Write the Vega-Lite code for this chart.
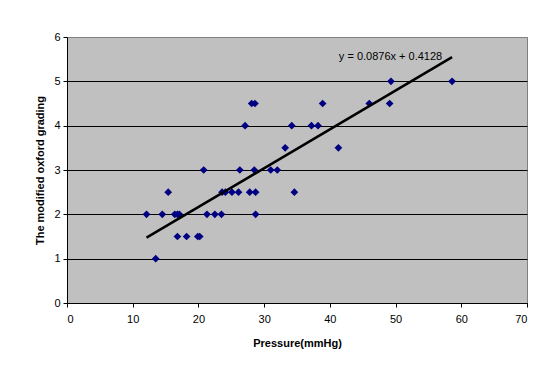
{
  "$schema": "https://vega.github.io/schema/vega-lite/v6.json",
  "width": 460,
  "height": 266,
  "autosize": "none",
  "padding": {"left": 67, "top": 37, "right": 15, "bottom": 63},
  "background": "white",
  "config": {
    "font": "Liberation Sans",
    "view": {"fill": "#C0C0C0", "stroke": "#808080", "strokeWidth": 1}
  },
  "datasets": {
    "points": [
      {"pressure": 13.5, "grade": 1},
      {"pressure": 16.8, "grade": 1.5},
      {"pressure": 18.2, "grade": 1.5},
      {"pressure": 19.9, "grade": 1.5},
      {"pressure": 20.2, "grade": 1.5},
      {"pressure": 12.1, "grade": 2},
      {"pressure": 14.5, "grade": 2},
      {"pressure": 16.4, "grade": 2},
      {"pressure": 16.8, "grade": 2},
      {"pressure": 17.1, "grade": 2},
      {"pressure": 21.3, "grade": 2},
      {"pressure": 22.5, "grade": 2},
      {"pressure": 23.5, "grade": 2},
      {"pressure": 28.7, "grade": 2},
      {"pressure": 15.4, "grade": 2.5},
      {"pressure": 23.6, "grade": 2.5},
      {"pressure": 24.1, "grade": 2.5},
      {"pressure": 25.1, "grade": 2.5},
      {"pressure": 26.1, "grade": 2.5},
      {"pressure": 27.8, "grade": 2.5},
      {"pressure": 28.7, "grade": 2.5},
      {"pressure": 34.6, "grade": 2.5},
      {"pressure": 20.8, "grade": 3},
      {"pressure": 26.3, "grade": 3},
      {"pressure": 28.5, "grade": 3},
      {"pressure": 31.0, "grade": 3},
      {"pressure": 32.0, "grade": 3},
      {"pressure": 33.2, "grade": 3.5},
      {"pressure": 41.3, "grade": 3.5},
      {"pressure": 27.1, "grade": 4},
      {"pressure": 34.2, "grade": 4},
      {"pressure": 37.2, "grade": 4},
      {"pressure": 38.2, "grade": 4},
      {"pressure": 28.1, "grade": 4.5},
      {"pressure": 28.6, "grade": 4.5},
      {"pressure": 38.9, "grade": 4.5},
      {"pressure": 46.0, "grade": 4.5},
      {"pressure": 49.1, "grade": 4.5},
      {"pressure": 49.3, "grade": 5},
      {"pressure": 58.6, "grade": 5}
    ],
    "trend": [
      {"pressure": 12.1, "grade": 1.473},
      {"pressure": 58.6, "grade": 5.546}
    ],
    "label": [
      {"pressure": 57.1, "grade": 5.55, "text": "y = 0.0876x + 0.4128"}
    ]
  },
  "layer": [
    {
      "data": {"name": "points"},
      "mark": {"type": "point", "shape": "diamond", "filled": true, "color": "#000080", "size": 60, "opacity": 1},
      "encoding": {
        "x": {
          "field": "pressure", "type": "quantitative",
          "scale": {"domain": [0, 70], "nice": false},
          "axis": {
            "title": "Pressure(mmHg)", "values": [0, 10, 20, 30, 40, 50, 60, 70],
            "grid": false, "domainColor": "black", "domainWidth": 1,
            "tickColor": "black", "tickSize": 4, "labelPadding": 6,
            "labelFontSize": 11, "labelColor": "black", "labelFont": "Liberation Sans",
            "titleFontSize": 11, "titleFontWeight": "bold", "titleColor": "black",
            "titleFont": "Liberation Sans", "titleBaseline": "middle", "titleY": 40
          }
        },
        "y": {
          "field": "grade", "type": "quantitative",
          "scale": {"domain": [0, 6], "nice": false},
          "axis": {
            "title": "The modified oxford grading", "values": [0, 1, 2, 3, 4, 5, 6],
            "grid": true,
            "gridColor": {"condition": {"test": "datum.value >= 6", "value": "#808080"}, "value": "black"},
            "gridWidth": 1, "gridOpacity": 1,
            "domainColor": "black", "domainWidth": 1,
            "tickColor": "black", "tickSize": 4, "labelPadding": 3,
            "labelFontSize": 11, "labelColor": "black", "labelFont": "Liberation Sans",
            "titleFontSize": 11, "titleFontWeight": "bold", "titleColor": "black",
            "titleFont": "Liberation Sans", "titleBaseline": "middle", "titleX": -27
          }
        }
      }
    },
    {
      "data": {"name": "trend"},
      "mark": {"type": "line", "color": "black", "strokeWidth": 2.5},
      "encoding": {
        "x": {"field": "pressure", "type": "quantitative"},
        "y": {"field": "grade", "type": "quantitative"}
      }
    },
    {
      "data": {"name": "label"},
      "mark": {"type": "text", "align": "right", "baseline": "middle", "fontSize": 11, "font": "Liberation Sans", "color": "black"},
      "encoding": {
        "x": {"field": "pressure", "type": "quantitative"},
        "y": {"field": "grade", "type": "quantitative"},
        "text": {"field": "text"}
      }
    }
  ]
}
